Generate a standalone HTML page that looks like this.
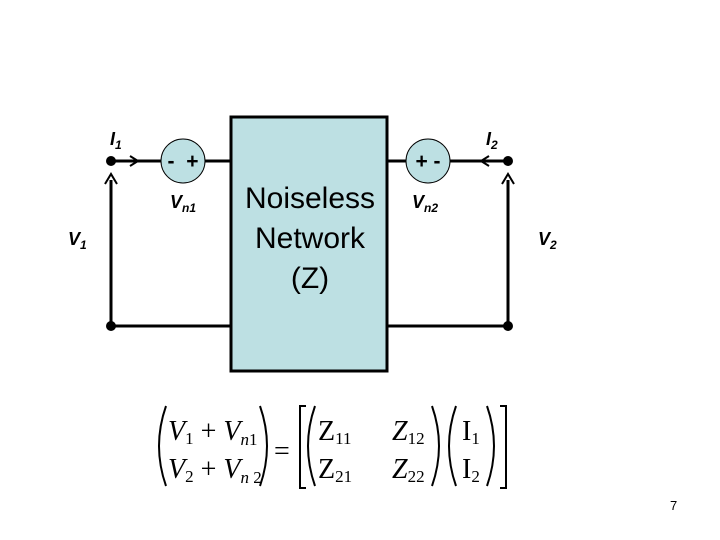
<!DOCTYPE html>
<html><head><style>body{margin:0;background:#fff}svg{display:block}</style></head><body>
<svg width="720" height="540" viewBox="0 0 720 540" xmlns="http://www.w3.org/2000/svg" font-family="Liberation Sans, sans-serif">
<g stroke="#000" stroke-width="3" fill="none">
<line x1="111" y1="161" x2="161" y2="161"/><line x1="205" y1="161" x2="231" y2="161"/>
<line x1="387" y1="161" x2="406" y2="161"/><line x1="450" y1="161" x2="508" y2="161"/>
<line x1="111" y1="326" x2="231" y2="326"/><line x1="387" y1="326" x2="508" y2="326"/>
<line x1="111" y1="326" x2="111" y2="180"/><line x1="508" y1="326" x2="508" y2="180"/>
<polyline points="130,156 138,161 130,166" stroke-width="2"/>
<polyline points="489,156 481,161 489,166" stroke-width="2"/>
<polyline points="105,184 111,174 117,184" stroke-width="2"/>
<polyline points="502,184 508,174 514,184" stroke-width="2"/>
</g>
<rect x="231" y="117" width="156" height="254" fill="#bde0e3" stroke="#000" stroke-width="3"/>
<circle cx="183" cy="161" r="22" fill="#bde0e3" stroke="#000" stroke-width="1"/>
<circle cx="428" cy="161" r="22" fill="#bde0e3" stroke="#000" stroke-width="1"/>
<circle cx="111" cy="161" r="5"/><circle cx="508" cy="161" r="5"/>
<circle cx="111" cy="326" r="5"/><circle cx="508" cy="326" r="5"/>
<text x="183" y="168" font-size="21" text-anchor="middle" font-weight="bold" xml:space="preserve">-  +</text>
<text x="428" y="168" font-size="21" text-anchor="middle" font-weight="bold" xml:space="preserve">+ -</text>
<text x="310" y="208" font-size="30" text-anchor="middle">Noiseless</text>
<text x="310" y="248" font-size="30" text-anchor="middle">Network</text>
<text x="310" y="288" font-size="30" text-anchor="middle">(Z)</text>
<g font-weight="bold" font-style="italic" font-size="18">
<text x="110" y="145">I<tspan font-size="12" dy="4">1</tspan></text>
<text x="486" y="145">I<tspan font-size="12" dy="4">2</tspan></text>
<text x="170" y="208">V<tspan font-size="12" dy="4">n1</tspan></text>
<text x="412" y="208">V<tspan font-size="12" dy="4">n2</tspan></text>
<text x="68" y="245">V<tspan font-size="12" dy="4">1</tspan></text>
<text x="538" y="245">V<tspan font-size="12" dy="4">2</tspan></text>
</g>
<g font-family="Liberation Serif, serif" font-size="28">
<text x="168" y="440" font-style="italic">V<tspan font-size="17" dy="4" font-style="normal">1</tspan><tspan dy="-4" font-style="normal"> + </tspan>V<tspan font-size="17" dy="5">n</tspan><tspan font-size="17" font-style="normal">1</tspan></text>
<text x="168" y="478" font-style="italic">V<tspan font-size="17" dy="4" font-style="normal">2</tspan><tspan dy="-4" font-style="normal"> + </tspan>V<tspan font-size="17" dy="5">n</tspan><tspan font-size="17" font-style="normal"> 2</tspan></text>
<text x="274" y="460">=</text>
<text x="318" y="440">Z<tspan font-size="17" dy="4">11</tspan></text>
<text x="392" y="440" font-style="italic">Z<tspan font-size="17" dy="4" font-style="normal">12</tspan></text>
<text x="318" y="478">Z<tspan font-size="17" dy="4">21</tspan></text>
<text x="392" y="478" font-style="italic">Z<tspan font-size="17" dy="4" font-style="normal">22</tspan></text>
<text x="462" y="440">I<tspan font-size="17" dy="4">1</tspan></text>
<text x="462" y="478">I<tspan font-size="17" dy="4">2</tspan></text>
</g>
<g stroke="#000" stroke-width="2" fill="none">
<path d="M166,406 Q152,446 166,486"/><path d="M260,406 Q274,446 260,486"/>
<path d="M315,406 Q301,446 315,486"/><path d="M432,406 Q446,446 432,486"/>
<path d="M456,406 Q442,446 456,486"/><path d="M487,406 Q501,446 487,486"/>
<path d="M306,406 H300 V488 H306"/><path d="M500,406 H506 V488 H500"/>
</g>
<text x="670" y="510" font-size="13">7</text>
</svg>
</body></html>
